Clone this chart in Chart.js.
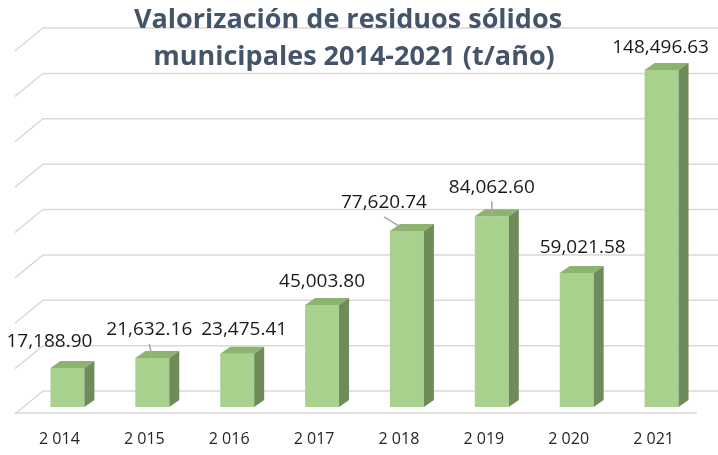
<!DOCTYPE html>
<html>
<head>
<meta charset="utf-8">
<script src="https://cdn.jsdelivr.net/npm/chart.js"></script>
<style>
  html, body { margin: 0; padding: 0; background: #fff; }
  #grafica { display: block; }
</style>
</head>
<body>
<canvas id="grafica" width="718" height="455"></canvas>
<script>
// datos
const anios = ['2 014', '2 015', '2 016', '2 017', '2 018', '2 019', '2 020', '2 021'];
const valores = [17188.90, 21632.16, 23475.41, 45003.80, 77620.74, 84062.60, 59021.58, 148496.63];
const titulo = ['Valorización de residuos sólidos', 'municipales 2014-2021 (t/año)'];
const ejeMax = 160000;
const ejePaso = 20000;

// posicion de etiquetas (desplazamiento respecto a la cara superior de la barra)
const despEtiquetas = [[-18, -26], [-3, -28], [7, -24], [0, -23], [-23, -28], [0, -29], [6, -26], [-1, -23]];
const conLinea = [false, true, false, false, true, true, false, false];

const FUENTE = "'Open Sans', sans-serif";
const prof = { dx: 10, dy: -7 };      // profundidad de las barras
const pared = { dx: 28, dy: -23 };    // profundidad del piso / pared
const corrimiento = 8;

const formato = v => v.toLocaleString('en-US', { minimumFractionDigits: 2, maximumFractionDigits: 2 });

const efecto3d = {
    id: 'efecto3d',
    beforeDatasetsDraw(chart) {
        const c = chart.ctx;
        const y = chart.scales.y;
        const area = chart.chartArea;
        c.save();
        c.strokeStyle = '#d9d9d9';
        c.lineWidth = 1.5;
        for (let v = 0; v <= ejeMax; v += ejePaso) {
            const py = y.getPixelForValue(v) - 16;
            c.beginPath();
            c.moveTo(area.left - 2, py - pared.dy);
            c.lineTo(area.left - 2 + pared.dx, py);
            c.lineTo(chart.width, py);
            c.stroke();
        }
        // borde frontal del piso
        const base = y.getPixelForValue(0) + 6;
        c.beginPath();
        c.moveTo(area.left - 2, base);
        c.lineTo(area.right + 1, base);
        c.stroke();
        c.restore();

        c.save();
        c.translate(corrimiento, 0);
    },
    afterDatasetsDraw(chart) {
        const c = chart.ctx;
        const barras = chart.getDatasetMeta(0).data;
        barras.forEach(b => {
            const izq = b.x - b.width / 2;
            const der = b.x + b.width / 2;
            c.fillStyle = '#8db46e';
            c.beginPath();
            c.moveTo(izq, b.y);
            c.lineTo(der, b.y);
            c.lineTo(der + prof.dx, b.y + prof.dy);
            c.lineTo(izq + prof.dx, b.y + prof.dy);
            c.closePath();
            c.fill();
            c.fillStyle = '#6e8b59';
            c.beginPath();
            c.moveTo(der, b.y);
            c.lineTo(der + prof.dx, b.y + prof.dy);
            c.lineTo(der + prof.dx, b.base + prof.dy);
            c.lineTo(der, b.base);
            c.closePath();
            c.fill();
        });
        c.restore();

        // etiquetas de datos
        c.save();
        c.font = '19px ' + FUENTE;
        c.fillStyle = '#1a1a1a';
        c.textAlign = 'center';
        c.textBaseline = 'middle';
        barras.forEach((b, i) => {
            const cx = b.x + corrimiento;
            const tx = cx + despEtiquetas[i][0];
            const ty = b.y + despEtiquetas[i][1];
            if (conLinea[i]) {
                c.strokeStyle = '#a6a6a6';
                c.lineWidth = 1.5;
                c.beginPath();
                c.moveTo(tx, ty + 14);
                c.lineTo(cx, b.y);
                c.stroke();
            }
            c.fillText(formato(valores[i]), tx, ty);
        });
        c.restore();
    },
    afterDraw(chart) {
        const c = chart.ctx;
        c.save();
        c.font = 'bold 27px ' + FUENTE;
        c.fillStyle = '#44546a';
        c.textAlign = 'center';
        c.textBaseline = 'middle';
        c.fillText(titulo[0], 348, 20);
        c.fillText(titulo[1], 354, 57);
        c.restore();
    }
};

new Chart(document.getElementById('grafica'), {
    type: 'bar',
    data: {
        labels: anios,
        datasets: [{
            data: valores,
            backgroundColor: '#a9d18e',
            borderWidth: 0,
            barPercentage: 0.4,
            categoryPercentage: 1
        }]
    },
    options: {
        responsive: false,
        animation: false,
        devicePixelRatio: 1,
        layout: { padding: { top: 44, left: 17, right: 22, bottom: 0 } },
        plugins: {
            legend: { display: false },
            title: { display: false },
            tooltip: { enabled: false }
        },
        scales: {
            x: {
                grid: { display: false, drawTicks: false },
                border: { display: false },
                ticks: {
                    padding: 23,
                    color: '#262626',
                    font: { family: FUENTE, size: 16 }
                },
                afterFit: s => { s.height = 48; }
            },
            y: {
                display: false,
                min: 0,
                max: ejeMax,
                ticks: { stepSize: ejePaso }
            }
        }
    },
    plugins: [efecto3d]
});
</script>
</body>
</html>
